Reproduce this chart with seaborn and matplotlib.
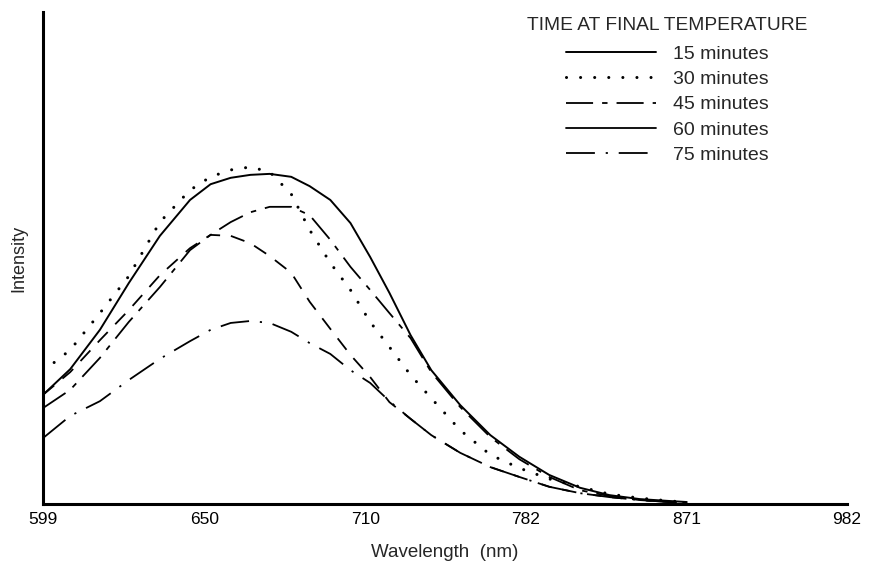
import numpy as np
import matplotlib
matplotlib.use("Agg")
import matplotlib.pyplot as plt
from matplotlib.lines import Line2D
from matplotlib.ticker import NullLocator
import seaborn as sns

# wavelength grid (nm)
wavelength = [599, 607, 616, 625, 635, 645, 652, 659, 666, 673, 681, 688, 696,
              704, 712, 720, 729, 738, 751, 765, 779, 794, 810, 826, 843, 861, 871]

# relative intensity (0-100 of plot height)
int_15 = [22.2, 27.4, 35.4, 44.9, 54.5, 61.8, 65.0, 66.3, 66.9, 67.1, 66.5, 64.6, 61.8,
          57.1, 50.2, 42.9, 34.3, 27.2, 20.1, 14.0, 9.6, 5.9, 3.3, 1.8, 1.0, 0.6, 0.4]
int_30 = [27.0, 31.3, 38.8, 46.3, 57.3, 63.8, 66.5, 67.9, 68.5, 67.5, 63.0, 55.7, 49.0,
          43.5, 37.0, 31.9, 26.2, 21.5, 15.0, 10.0, 7.3, 5.1, 3.5, 2.0, 1.2, 0.6, 0.4]
int_45 = [19.5, 23.2, 29.7, 37.0, 44.1, 51.6, 54.7, 57.3, 59.3, 60.4, 60.4, 58.7, 53.7,
          48.2, 43.5, 38.8, 33.7, 26.8, 19.7, 13.6, 9.1, 5.5, 2.8, 1.6, 0.8, 0.4, 0.2]
int_60 = [22.2, 26.8, 33.3, 39.4, 46.5, 52.0, 54.7, 54.5, 53.0, 50.4, 47.0, 41.1, 35.6,
          30.3, 25.8, 20.7, 17.3, 14.0, 10.4, 7.5, 5.5, 3.5, 2.2, 1.4, 0.8, 0.4, 0.2]
int_75 = [13.4, 17.9, 20.9, 25.2, 29.5, 33.1, 35.4, 36.8, 37.2, 36.8, 35.0, 32.7, 30.5,
          27.2, 24.6, 20.9, 17.3, 14.0, 10.4, 7.5, 5.5, 3.5, 2.2, 1.4, 0.8, 0.4, 0.2]

labels = ["15 minutes", "30 minutes", "45 minutes", "60 minutes", "75 minutes"]
tick_nm = [599, 650, 710, 782, 871, 982]

sns.set_style("white")
plt.rcParams['font.family'] = ['Liberation Sans', 'DejaVu Sans']

fig = plt.figure(figsize=(8.69, 5.61), dpi=100)
ax = fig.add_axes([0.0495, 0.1016, 0.9252, 0.877])

# line styles as in the print
styles = {
    "15 minutes": dict(linestyle='-', lw=1.4),
    "30 minutes": dict(linestyle=(0, (0.01, 4.6)), lw=2.2, dash_capstyle='round'),
    "45 minutes": dict(linestyle=(0, (15, 5, 3, 5)), lw=1.3),
    "60 minutes": dict(linestyle=(0, (8, 6)), lw=1.3),
    "75 minutes": dict(linestyle=(0, (16, 6, 1.2, 6)), lw=1.3),
}
series = dict(zip(labels, [int_15, int_30, int_45, int_60, int_75]))

for name, vals in series.items():
    sns.lineplot(x=wavelength, y=vals, ax=ax, color='black', errorbar=None,
                 sort=False, **styles[name])

# wavenumber-linear axis
def fwd(x):
    with np.errstate(divide='ignore'):
        return -1e7 / np.asarray(x, dtype=float)

ax.set_xscale('function', functions=(fwd, fwd))
ax.set_xlim(599, 982)
ax.set_xticks(tick_nm)
ax.set_xticklabels([str(t) for t in tick_nm])
ax.xaxis.set_minor_locator(NullLocator())
ax.set_ylim(0, 100)
ax.set_yticks([])
ax.tick_params(axis='x', direction='in', length=7, width=1.6, pad=6,
               labelsize=12.5, colors='black')

for s in ['top', 'right']:
    ax.spines[s].set_visible(False)
for s in ['left', 'bottom']:
    ax.spines[s].set_linewidth(2.2)
    ax.spines[s].set_color('black')

ax.set_xlabel('Wavelength  (nm)', fontsize=13.5, labelpad=12)
ax.set_ylabel('Intensity', fontsize=13, labelpad=11)

# legend (60 minutes is printed as a plain rule)
handles = []
for name in labels:
    st = dict(styles[name])
    if name == "60 minutes":
        st['linestyle'] = '-'
    handles.append(Line2D([], [], color='black', **st))
leg = ax.legend(handles, labels, title='TIME AT FINAL TEMPERATURE',
                loc='upper left', bbox_to_anchor=(0.602, 0.99), frameon=False,
                fontsize=14, title_fontsize=13.8, handlelength=4.6,
                handletextpad=0.88, labelspacing=0.4, borderaxespad=0,
                borderpad=0)
leg._legend_box.sep = 8

fig.savefig('out.png', dpi=100)
